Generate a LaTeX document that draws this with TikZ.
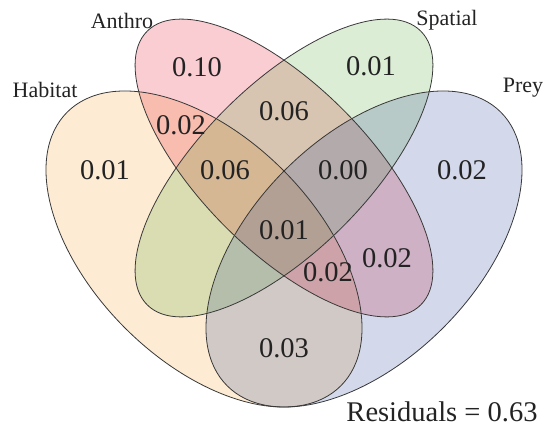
\documentclass[tikz,border=0pt]{standalone}
\usepackage{fontspec}
\setmainfont{Liberation Serif}
\definecolor{cHab}{RGB}{245,155,35}
\definecolor{cAnt}{RGB}{230,5,30}
\definecolor{cSpa}{RGB}{80,165,45}
\definecolor{cPrey}{RGB}{35,65,150}
\definecolor{txt}{RGB}{35,35,35}
\begin{document}
\begin{tikzpicture}[x=1pt,y=1pt,
  setfill/.style={fill=#1,fill opacity=0.2,draw=none},
  outline/.style={draw=black!78,line width=0.8pt},
  num/.style={text=txt,font=\fontsize{28.5}{30}\selectfont,inner sep=0pt},
  setname/.style={text=txt,font=\fontsize{22}{24}\selectfont,inner sep=0pt}]
\useasboundingbox (0,0) rectangle (546,428);
% fills
\fill[setfill=cHab,rotate around={-45:(204,179)}] (204,179) ellipse [x radius=193.5pt, y radius=111.7pt];
\fill[setfill=cAnt,rotate around={-45:(284,260)}] (284,260) ellipse [x radius=193.5pt, y radius=83pt];
\fill[setfill=cSpa,rotate around={45:(284,260)}] (284,260) ellipse [x radius=193.5pt, y radius=83pt];
\fill[setfill=cPrey,rotate around={45:(364,179)}] (364,179) ellipse [x radius=193.5pt, y radius=111.7pt];
% outlines
\draw[outline,rotate around={-45:(204,179)}] (204,179) ellipse [x radius=193.5pt, y radius=111.7pt];
\draw[outline,rotate around={-45:(284,260)}] (284,260) ellipse [x radius=193.5pt, y radius=83pt];
\draw[outline,rotate around={45:(284,260)}] (284,260) ellipse [x radius=193.5pt, y radius=83pt];
\draw[outline,rotate around={45:(364,179)}] (364,179) ellipse [x radius=193.5pt, y radius=111.7pt];
% set names
\node[setname] (lHab) at (45,338) {Habitat};
\node[setname] (lAnt) at (122,407) {Anthro};
\node[setname] (lSpa) at (447,408) {Spatial};
\node[setname] (lPrey) at (523,340) {Prey};
% region values
\node[num] (rA) at (197,361) {0.10};
\node[num] (rS) at (371,362) {0.01};
\node[num] (rH) at (105,258) {0.01};
\node[num] (rP) at (462,258) {0.02};
\node[num] (rHA) at (181,303) {0.02};
\node[num] (rAS) at (284,317) {0.06};
\node[num] (rHAS) at (225,258) {0.06};
\node[num] (rASP) at (343,258) {0.00};
\node[num] (rAll) at (284,198) {0.01};
\node[num] (rHAP) at (328,156) {0.02};
\node[num] (rAP) at (387,170) {0.02};
\node[num] (rHP) at (284,80) {0.03};
\node[num] (res) at (442,16) {Residuals = 0.63};
\end{tikzpicture}
\end{document}
